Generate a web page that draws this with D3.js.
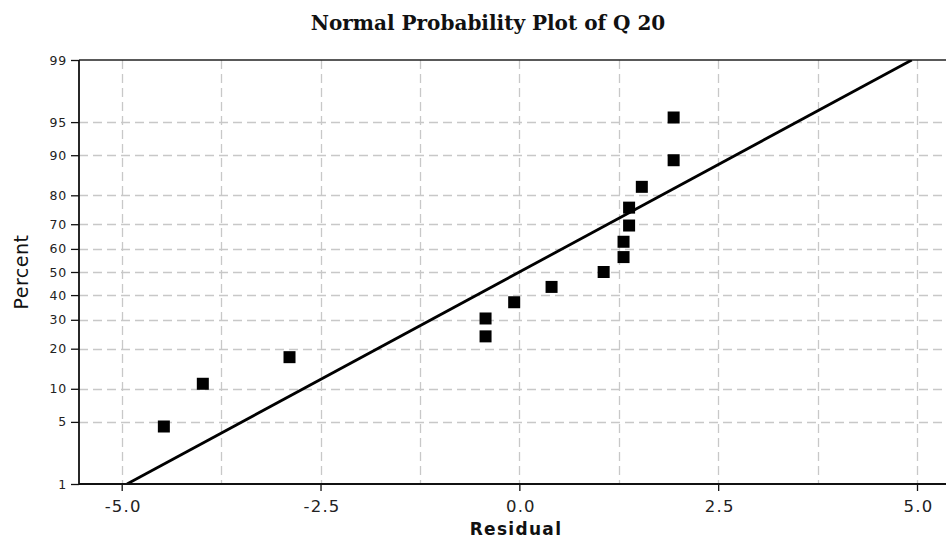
<!DOCTYPE html>
<html><head><meta charset="utf-8">
<script src="https://cdn.jsdelivr.net/npm/d3@7"></script>
<style>
html,body{margin:0;padding:0;background:#fff;}
svg{display:block;}
</style></head>
<body>
<svg id="chart" width="946" height="538"></svg>
<script>
// ---- data ----
const residuals = [-4.47, -3.98, -2.89, -0.425, -0.425, -0.065, 0.405, 1.06, 1.31, 1.31, 1.38, 1.38, 1.54, 1.94, 1.94];
const percents  = [4.5, 11.0, 17.5, 24.0, 30.5, 37.0, 43.5, 50.0, 56.5, 63.0, 69.5, 76.0, 82.5, 89.0, 95.5];
const yTickLabels = [1, 5, 10, 20, 30, 40, 50, 60, 70, 80, 90, 95, 99];
const yGridLabels = [5, 10, 20, 30, 40, 50, 60, 70, 80, 90, 95];
const xTickLabels = [-5.0, -2.5, 0.0, 2.5, 5.0];
const xGridValues = [-5.0, -3.75, -2.5, -1.25, 0.0, 1.25, 2.5, 3.75, 5.0];
const chartTitle = "Normal Probability Plot of Q 20";
const xTitle = "Residual";
const yTitle = "Percent";

// inverse standard normal CDF (Acklam)
function qnorm(p){
  const a=[-3.969683028665376e+01,2.209460984245205e+02,-2.759285104469687e+02,1.383577518672690e+02,-3.066479806614716e+01,2.506628277459239e+00];
  const b=[-5.447609879822406e+01,1.615858368580409e+02,-1.556989798598866e+02,6.680131188771972e+01,-1.328068155288572e+01];
  const c=[-7.784894002430293e-03,-3.223964580411365e-01,-2.400758277161838e+00,-2.549732539343734e+00,4.374664141464968e+00,2.938163982698783e+00];
  const d=[7.784695709041462e-03,3.224671290700398e-01,2.445134137142996e+00,3.754408661907416e+00];
  const pl=0.02425, ph=1-pl; let q,r;
  if(p<pl){q=Math.sqrt(-2*Math.log(p));return (((((c[0]*q+c[1])*q+c[2])*q+c[3])*q+c[4])*q+c[5])/((((d[0]*q+d[1])*q+d[2])*q+d[3])*q+1);}
  if(p>ph){q=Math.sqrt(-2*Math.log(1-p));return -(((((c[0]*q+c[1])*q+c[2])*q+c[3])*q+c[4])*q+c[5])/((((d[0]*q+d[1])*q+d[2])*q+d[3])*q+1);}
  q=p-0.5;r=q*q;
  return (((((a[0]*r+a[1])*r+a[2])*r+a[3])*r+a[4])*r+a[5])*q/(((((b[0]*r+b[1])*r+b[2])*r+b[3])*r+b[4])*r+1);
}

const svg = d3.select("#chart");
const pLeft = 79, pRight = 946, pTop = 60, pBottom = 484;

const x = d3.scaleLinear().domain([-5, 5]).range([121.7, 917]);
const y = d3.scaleLinear().domain([qnorm(0.01), qnorm(0.99)]).range([pBottom, pTop]);
const yp = p => y(qnorm(p/100));

// grid
const gridColor = "#c8c8c8";
svg.append("g").selectAll("line").data(yGridLabels).join("line")
  .attr("x1", pLeft).attr("x2", pRight)
  .attr("y1", d=>Math.round(yp(d))+0.5).attr("y2", d=>Math.round(yp(d))+0.5)
  .attr("stroke", gridColor).attr("stroke-width", 1.3).attr("stroke-dasharray", "9,5");
svg.append("g").selectAll("line").data(xGridValues).join("line")
  .attr("x1", d=>Math.round(x(d))+0.5).attr("x2", d=>Math.round(x(d))+0.5)
  .attr("y1", pTop).attr("y2", pBottom)
  .attr("stroke", gridColor).attr("stroke-width", 1.3).attr("stroke-dasharray", "9,5");

// top border
svg.append("line").attr("x1", pLeft).attr("x2", pRight).attr("y1", pTop).attr("y2", pTop)
  .attr("stroke", "#222").attr("stroke-width", 1.5);

// fitted line from data mean and sd
const m = d3.mean(residuals), s = d3.deviation(residuals);
const z1 = qnorm(0.01), z2 = qnorm(0.99);
svg.append("defs").append("clipPath").attr("id","clip").append("rect")
  .attr("x", pLeft).attr("y", pTop).attr("width", pRight-pLeft).attr("height", pBottom-pTop);
svg.append("line").attr("clip-path","url(#clip)")
  .attr("x1", x(m + s*z1)).attr("y1", y(z1))
  .attr("x2", x(m + s*z2)).attr("y2", y(z2))
  .attr("stroke", "#000").attr("stroke-width", 2.8);

// points
const sz = 12;
svg.append("g").selectAll("rect").data(residuals).join("rect")
  .attr("x", d=>x(d)-sz/2).attr("y", (d,i)=>yp(percents[i])-sz/2)
  .attr("width", sz).attr("height", sz).attr("fill", "#000");

// axes
const tickFont = "'DejaVu Sans', Verdana, sans-serif";
const yAxis = d3.axisLeft(y)
  .tickValues(yTickLabels.map(p=>qnorm(p/100)))
  .tickFormat((d,i)=>yTickLabels[i]).tickSize(8).tickSizeOuter(0);
const gy = svg.append("g").attr("transform", `translate(${pLeft},0)`).call(yAxis);
gy.select(".domain").remove();
gy.append("line").attr("x1",0).attr("x2",0).attr("y1",pTop).attr("y2",pBottom).attr("stroke","#111").attr("stroke-width",1.8);
gy.selectAll(".tick line").attr("stroke","#111").attr("stroke-width",1.3);
gy.selectAll(".tick text").attr("x",-12).attr("font-family", tickFont).attr("font-size", 12.5)
  .attr("letter-spacing", 0.8).attr("fill", "#222");

const xAxis = d3.axisBottom(x).tickValues(xTickLabels)
  .tickFormat(d => d3.format(".1f")(d).replace("\u2212", "-")).tickSize(7).tickSizeOuter(0);
const gx = svg.append("g").attr("transform", `translate(0,${pBottom})`).call(xAxis);
gx.select(".domain").remove();
gx.append("line").attr("x1",pLeft).attr("x2",pRight).attr("y1",0).attr("y2",0).attr("stroke","#111").attr("stroke-width",1.8);
gx.selectAll(".tick line").attr("stroke","#111").attr("stroke-width",1.3);
gx.selectAll(".tick text").attr("y", 16).attr("font-family", tickFont).attr("font-size", 16.5)
  .attr("letter-spacing", 1.2).attr("fill", "#222").attr("dx", 1);

// titles
svg.append("text").attr("x", 488).attr("y", 30).attr("text-anchor","middle")
  .attr("font-family", "'DejaVu Serif', 'Liberation Serif', serif").attr("font-weight","bold")
  .attr("font-size", 20).attr("fill","#111").text(chartTitle);
svg.append("text").attr("x", 516).attr("y", 535).attr("text-anchor","middle")
  .attr("font-family", tickFont).attr("font-weight","bold")
  .attr("font-size", 17).attr("letter-spacing", 1.3).attr("fill","#111").text(xTitle);
svg.append("text").attr("transform", "translate(28,272) rotate(-90)").attr("text-anchor","middle")
  .attr("font-family", tickFont).attr("font-size", 19).attr("letter-spacing", 0.5)
  .attr("fill","#111").text(yTitle);
</script>
</body></html>
